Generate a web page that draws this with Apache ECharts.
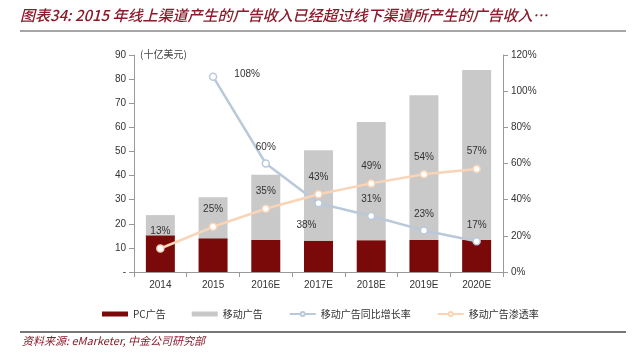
<!DOCTYPE html>
<html><head><meta charset="utf-8">
<script src="https://cdn.jsdelivr.net/npm/echarts@6/dist/echarts.min.js"></script>
<style>html,body{margin:0;padding:0;background:#fff}#c{width:640px;height:362px}</style>
</head><body><div id="c"></div>
<script>
const categories = ['2014','2015','2016E','2017E','2018E','2019E','2020E'];
const pcAds = [15.2, 14.0, 13.3, 13.0, 13.2, 13.3, 13.3];
const mobileAds = [8.4, 17.0, 27.0, 37.5, 49.0, 60.0, 70.5];
const mobileGrowth = [null, 108, 60, 38, 31, 23, 17];
const mobilePenetration = [13, 25, 35, 43, 49, 54, 57];
const leftTicks = [0,10,20,30,40,50,60,70,80,90];
const rightTicks = [0,20,40,60,80,100,120];

const cjk = '"Noto Sans CJK SC", sans-serif';
const lat = 'Arial, "Liberation Sans", sans-serif';
const chart = echarts.init(document.getElementById('c'));
chart.setOption({
  animation:false,
  graphic:[
    {type:'text',left:20,top:8,style:{text:'图表34: 2015 年线上渠道产生的广告收入已经超过线下渠道所产生的广告收入…',fill:'#8b1a2b',font:'italic 500 15px '+cjk}},
    {type:'line',shape:{x1:20,y1:31,x2:626,y2:31},style:{stroke:'#888',lineWidth:1.5}},
    {type:'line',shape:{x1:20,y1:332,x2:626,y2:332},style:{stroke:'#777',lineWidth:2}},
    {type:'text',left:22,top:335,style:{text:'资料来源: eMarketer, 中金公司研究部',fill:'#8b1a2b',font:'italic 11px '+cjk}},
    {type:'text',left:140,top:49,style:{text:'(十亿美元)',fill:'#444',font:'10px '+cjk}}
  ],
  legend:{
    bottom:38,left:97,itemGap:26,itemWidth:26,itemHeight:5,
    textStyle:{fontFamily:cjk,fontSize:10,color:'#333'},
    data:[
      {name:'PC广告',icon:'rect'},
      {name:'移动广告',icon:'rect'},
      {name:'移动广告同比增长率'},
      {name:'移动广告渗透率'}
    ]
  },
  grid:{left:134,right:137,top:55,bottom:90},
  xAxis:{type:'category',data:categories,
    axisLine:{lineStyle:{color:'#999'}},
    axisTick:{show:true,lineStyle:{color:'#999'}},
    axisLabel:{color:'#333',fontFamily:lat,fontSize:10,margin:8}},
  yAxis:[
    {type:'value',min:0,max:90,interval:10,
      axisLine:{show:true,lineStyle:{color:'#999'}},
      axisTick:{show:true,lineStyle:{color:'#999'}},
      splitLine:{show:false},
      axisLabel:{color:'#333',fontFamily:lat,fontSize:10,formatter:v=>v===0?'-':v}},
    {type:'value',min:0,max:120,interval:20,position:'right',
      axisLine:{show:true,lineStyle:{color:'#999'}},
      axisTick:{show:true,inside:false,lineStyle:{color:'#999'}},
      splitLine:{show:false},
      axisLabel:{color:'#333',fontFamily:lat,fontSize:10,formatter:v=>v+'%'}}
  ],
  series:[
    {name:'PC广告',type:'bar',stack:'a',data:pcAds,barWidth:'55%',itemStyle:{color:'#7a0a0a'}},
    {name:'移动广告',type:'bar',stack:'a',data:mobileAds,itemStyle:{color:'#c9c9c9'}},
    {name:'移动广告同比增长率',type:'line',yAxisIndex:1,data:mobileGrowth.map((v,i)=>{
        const o={value:v};
        if(i===1) o.label={position:'right',offset:[10,-2]};
        if(i===3) o.label={position:'bottom',offset:[-12,6]};
        return o;}),
      symbol:'circle',symbolSize:7,lineStyle:{color:'#b9c9da',width:2.5},
      itemStyle:{color:'#fff',borderColor:'#b9c9da',borderWidth:1.5},
      label:{show:true,position:'top',distance:7,formatter:p=>p.value+'%',color:'#333',fontFamily:lat,fontSize:10}},
    {name:'移动广告渗透率',type:'line',yAxisIndex:1,data:mobilePenetration,
      symbol:'circle',symbolSize:7,lineStyle:{color:'#f9d4b6',width:2.5},
      itemStyle:{color:'#fff',borderColor:'#f9d4b6',borderWidth:1.5},
      label:{show:true,position:'top',distance:8,formatter:p=>p.value+'%',color:'#333',fontFamily:lat,fontSize:10}}
  ]
});
</script></body></html>
